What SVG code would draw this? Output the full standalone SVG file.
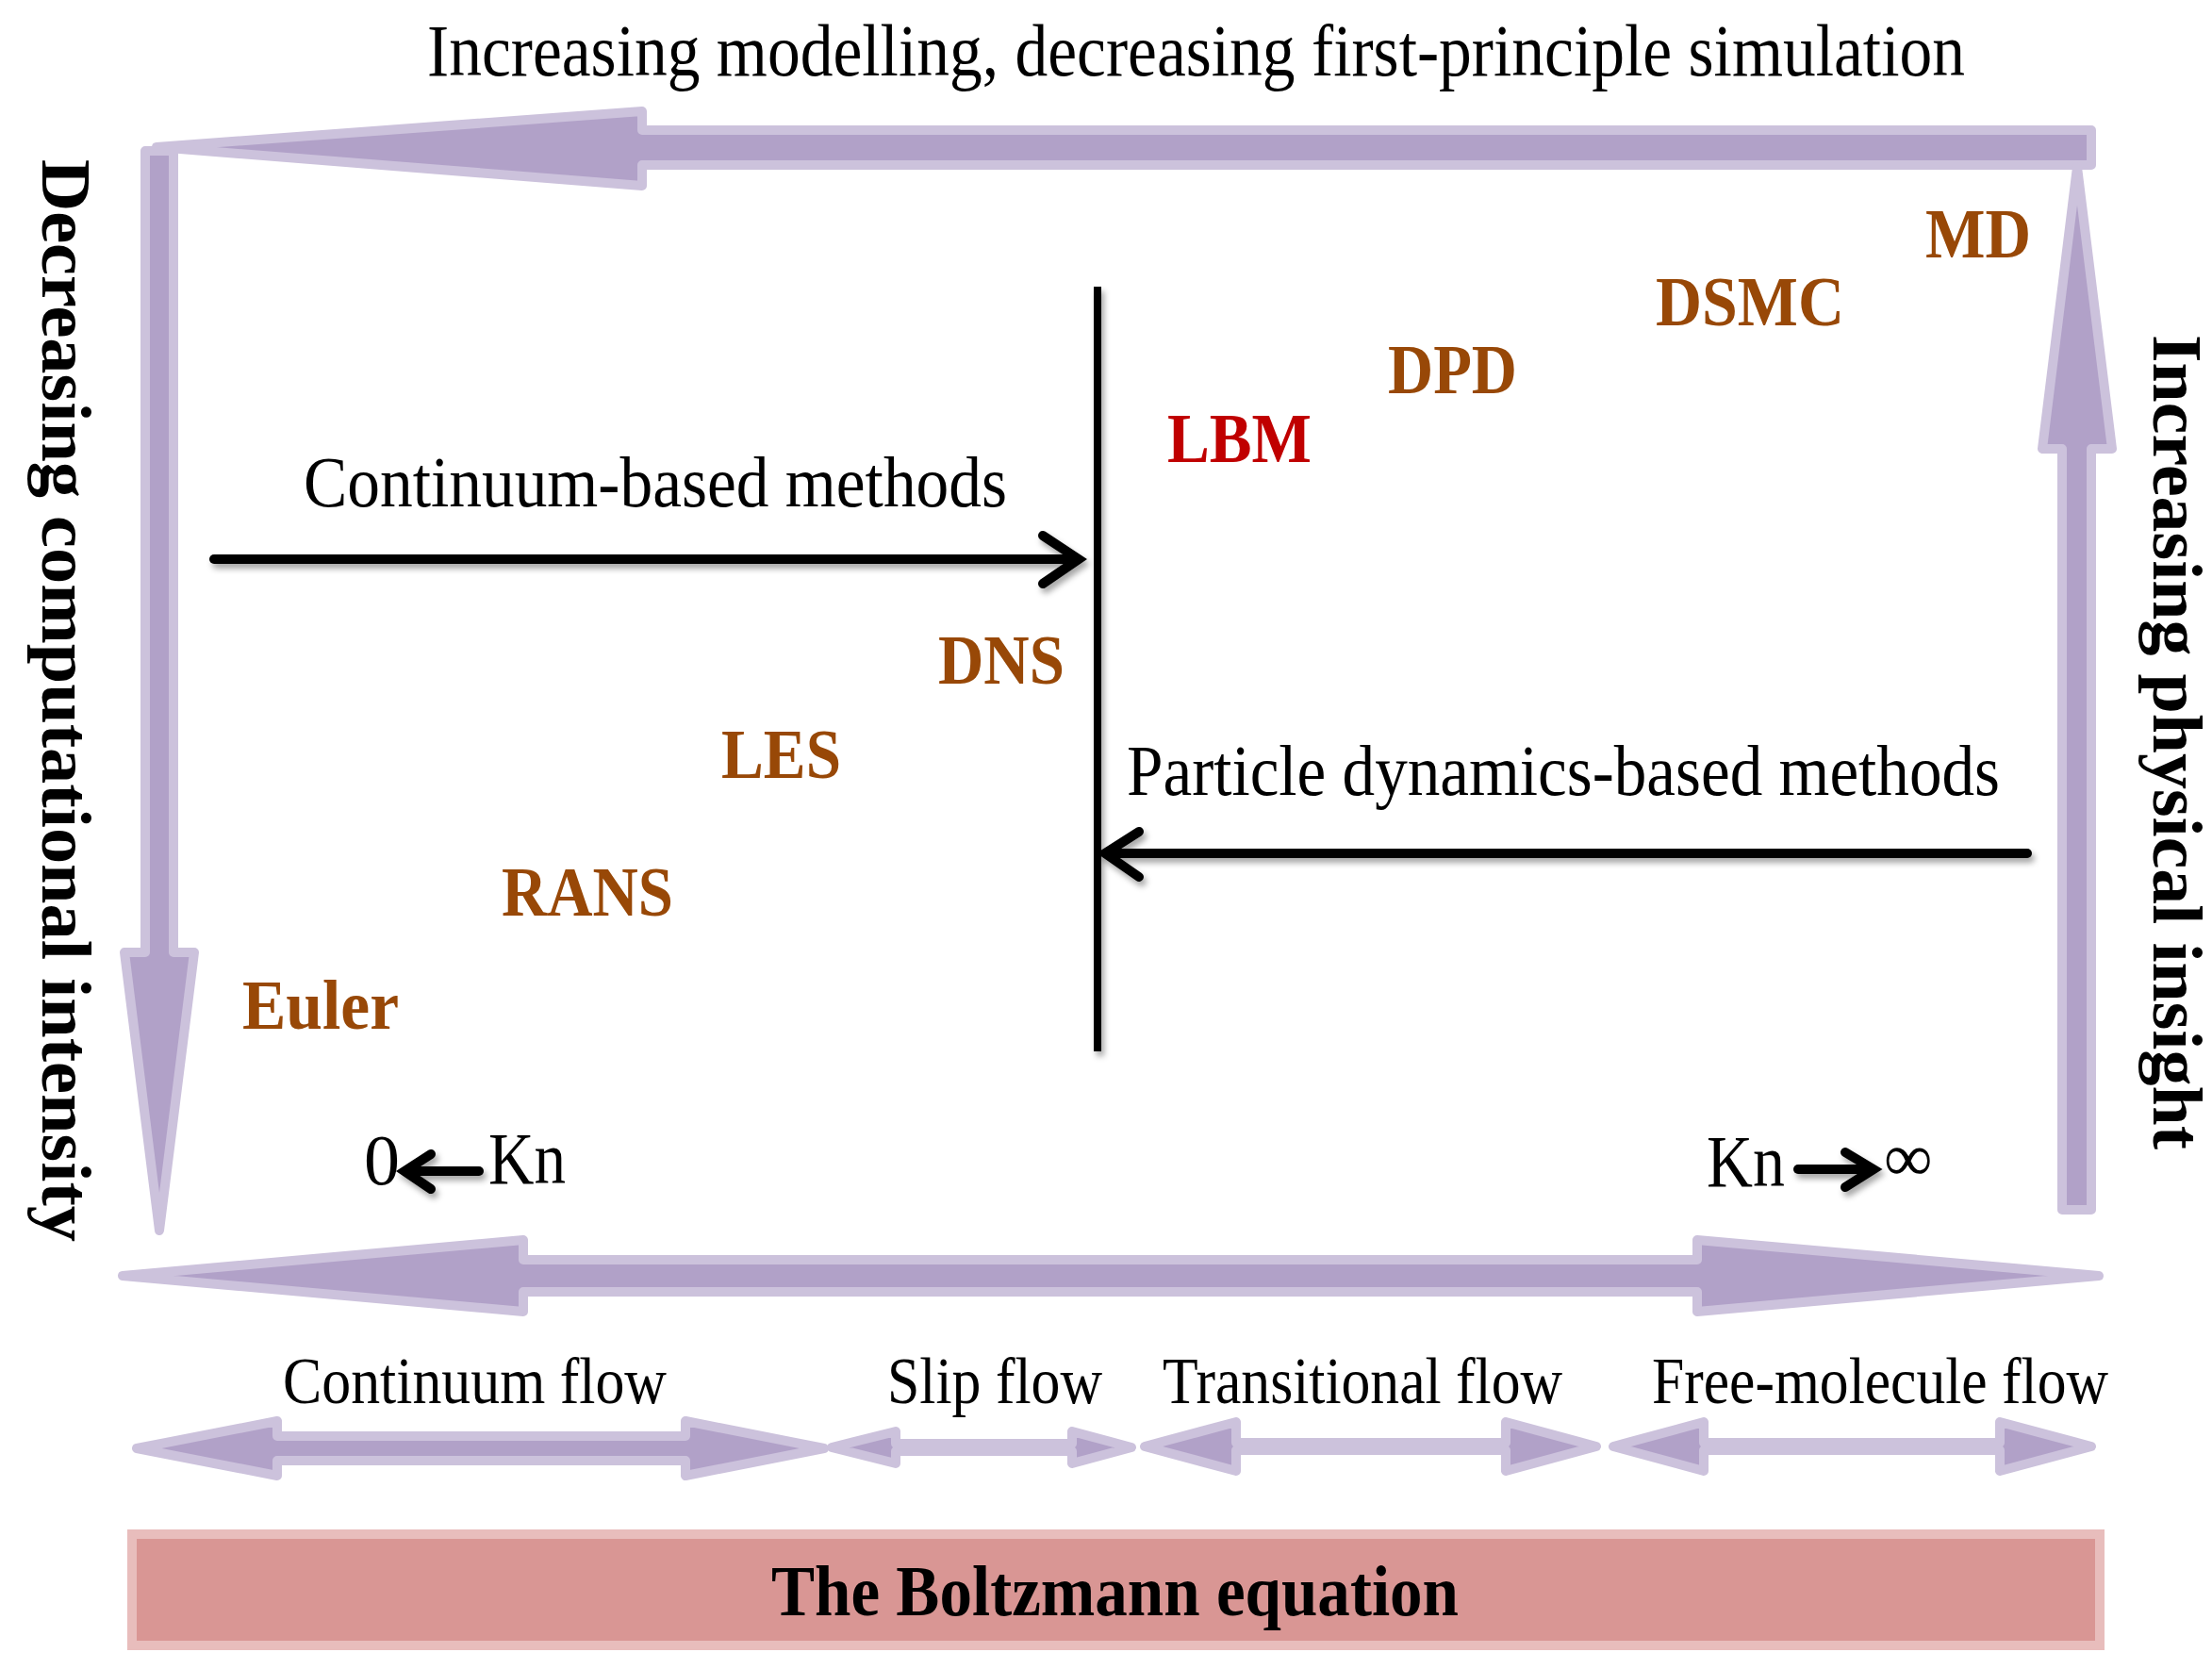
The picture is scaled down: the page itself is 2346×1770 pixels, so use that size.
<svg xmlns="http://www.w3.org/2000/svg" width="2346" height="1770" viewBox="0 0 2346 1770">
<style>
.big{fill:#B1A1C8;stroke:#CCC2DC;stroke-width:10;stroke-linejoin:round}
.sm{fill:#B1A1C8;stroke:#CCC2DC;stroke-width:10;stroke-linejoin:round}
.blk{fill:none;stroke:#000;stroke-width:10;stroke-linecap:round;stroke-linejoin:miter}
.serif{font-family:"Liberation Serif","Times New Roman",serif;fill:#000}
.bold{font-family:"Liberation Serif","Times New Roman",serif;font-weight:bold}
.meth{font-family:"Liberation Serif","Times New Roman",serif;font-weight:bold;font-size:75px;fill:#984807}
</style>
<defs>
<filter id="sh" filterUnits="userSpaceOnUse" x="0" y="0" width="2346" height="1770">
<feDropShadow dx="3" dy="5" stdDeviation="3" flood-color="#000" flood-opacity="0.35"/>
</filter>
</defs>
<rect width="2346" height="1770" fill="#fff"/>

<g id="connectors">
<!-- top arrow pointing left -->
<polygon class="big" points="166,156 681,118 681,138 2218,138 2218,175 681,175 681,197"/>
<!-- left arrow pointing down -->
<polygon class="big" points="154,160 184,160 184,1010 206,1010 169,1305 132,1010 154,1010"/>
<!-- right arrow pointing up -->
<polygon class="big" points="2187,1283 2218,1283 2218,476 2240,476 2203,177 2166,476 2187,476"/>
<!-- bottom double arrow -->
<polygon class="big" points="130,1353 555,1315 555,1336 1800,1336 1800,1315 2226,1353 1800,1391 1800,1370 555,1370 555,1391"/>
<!-- bottom small double arrows -->
<polygon class="sm" points="145,1536 294,1507 294,1523 727,1523 727,1507 874,1536 727,1565 727,1549 294,1549 294,1565"/>
<polygon class="sm" points="882,1535 950,1518 950,1531 1137,1531 1137,1518 1200,1535 1137,1552 1137,1539 950,1539 950,1552"/>
<polygon class="sm" points="1214,1534 1311,1508 1311,1530 1597,1530 1597,1508 1693,1534 1597,1560 1597,1538 1311,1538 1311,1560"/>
<polygon class="sm" points="1711,1534 1807,1508 1807,1530 2121,1530 2121,1508 2218,1534 2121,1560 2121,1538 1807,1538 1807,1560"/>
<!-- vertical divider -->
<rect x="1160" y="304" width="8" height="811" fill="#000" filter="url(#sh)"/>
<!-- continuum-based arrow -->
<g filter="url(#sh)">
<line class="blk" x1="227" y1="593" x2="1138" y2="593"/>
<polyline class="blk" points="1106,568 1144,593 1106,619"/>
</g>
<!-- particle-based arrow -->
<g filter="url(#sh)">
<line class="blk" x1="2150" y1="905" x2="1178" y2="905"/>
<polyline class="blk" points="1208,882 1172,905 1208,930"/>
</g>
<!-- Kn arrows -->
<g filter="url(#sh)">
<line class="blk" x1="508" y1="1242" x2="434" y2="1242"/>
<polyline class="blk" points="457,1224 429,1242 457,1261"/>
<line class="blk" x1="1907" y1="1240" x2="1982" y2="1240"/>
<polyline class="blk" points="1957,1222 1987,1240 1957,1259"/>
</g>
</g>

<g id="title">
<text class="serif" x="453" y="80" font-size="78" textLength="1631" lengthAdjust="spacingAndGlyphs">Increasing modelling, decreasing first-principle simulation</text>
</g>
<g id="left-label">
<text class="bold" font-size="73" transform="translate(45,169) rotate(90)" textLength="1148" lengthAdjust="spacingAndGlyphs">Decreasing computational intensity</text>
</g>
<g id="right-label">
<text class="bold" font-size="73" transform="translate(2284,355) rotate(90)" textLength="864" lengthAdjust="spacingAndGlyphs">Increasing physical insight</text>
</g>
<g id="continuum-methods">
<text class="serif" x="322" y="537" font-size="76" textLength="746" lengthAdjust="spacingAndGlyphs">Continuum-based methods</text>
</g>
<g id="particle-methods">
<text class="serif" x="1195" y="843" font-size="77" textLength="926" lengthAdjust="spacingAndGlyphs">Particle dynamics-based methods</text>
</g>
<g id="MD"><text class="meth" x="2042" y="273" textLength="112" lengthAdjust="spacingAndGlyphs">MD</text></g>
<g id="DSMC"><text class="meth" x="1756" y="345" textLength="200" lengthAdjust="spacingAndGlyphs">DSMC</text></g>
<g id="DPD"><text class="meth" x="1472" y="417" textLength="137" lengthAdjust="spacingAndGlyphs">DPD</text></g>
<g id="LBM"><text class="meth" x="1238" y="490" textLength="153" lengthAdjust="spacingAndGlyphs" style="fill:#C00000">LBM</text></g>
<g id="DNS"><text class="meth" x="995" y="725" textLength="134" lengthAdjust="spacingAndGlyphs">DNS</text></g>
<g id="LES"><text class="meth" x="765" y="825" textLength="127" lengthAdjust="spacingAndGlyphs">LES</text></g>
<g id="RANS"><text class="meth" x="532" y="971" textLength="182" lengthAdjust="spacingAndGlyphs">RANS</text></g>
<g id="Euler"><text class="meth" x="257" y="1091" textLength="166" lengthAdjust="spacingAndGlyphs">Euler</text></g>

<g id="kn-zero">
<text class="serif" x="386" y="1256" font-size="76">0</text>
<text class="serif" x="518" y="1255" font-size="78" textLength="82" lengthAdjust="spacingAndGlyphs">Kn</text>
</g>
<g id="kn-inf">
<text class="serif" x="1810" y="1258" font-size="78" textLength="83" lengthAdjust="spacingAndGlyphs">Kn</text>
<text class="serif" x="1998" y="1252" font-size="72">∞</text>
</g>

<g id="flow-labels">
<text class="serif" x="300" y="1488" font-size="70" textLength="407" lengthAdjust="spacingAndGlyphs">Continuum flow</text>
<text class="serif" x="941" y="1488" font-size="70" textLength="228" lengthAdjust="spacingAndGlyphs">Slip flow</text>
<text class="serif" x="1233" y="1488" font-size="70" textLength="424" lengthAdjust="spacingAndGlyphs">Transitional flow</text>
<text class="serif" x="1752" y="1488" font-size="70" textLength="484" lengthAdjust="spacingAndGlyphs">Free-molecule flow</text>
</g>

<g id="boltzmann">
<rect x="140" y="1627" width="2087" height="118" fill="#D99694" stroke="#E8BDBC" stroke-width="10"/>
<text class="bold" x="818" y="1713" font-size="76" textLength="729" lengthAdjust="spacingAndGlyphs" fill="#000">The Boltzmann equation</text>
</g>
</svg>
